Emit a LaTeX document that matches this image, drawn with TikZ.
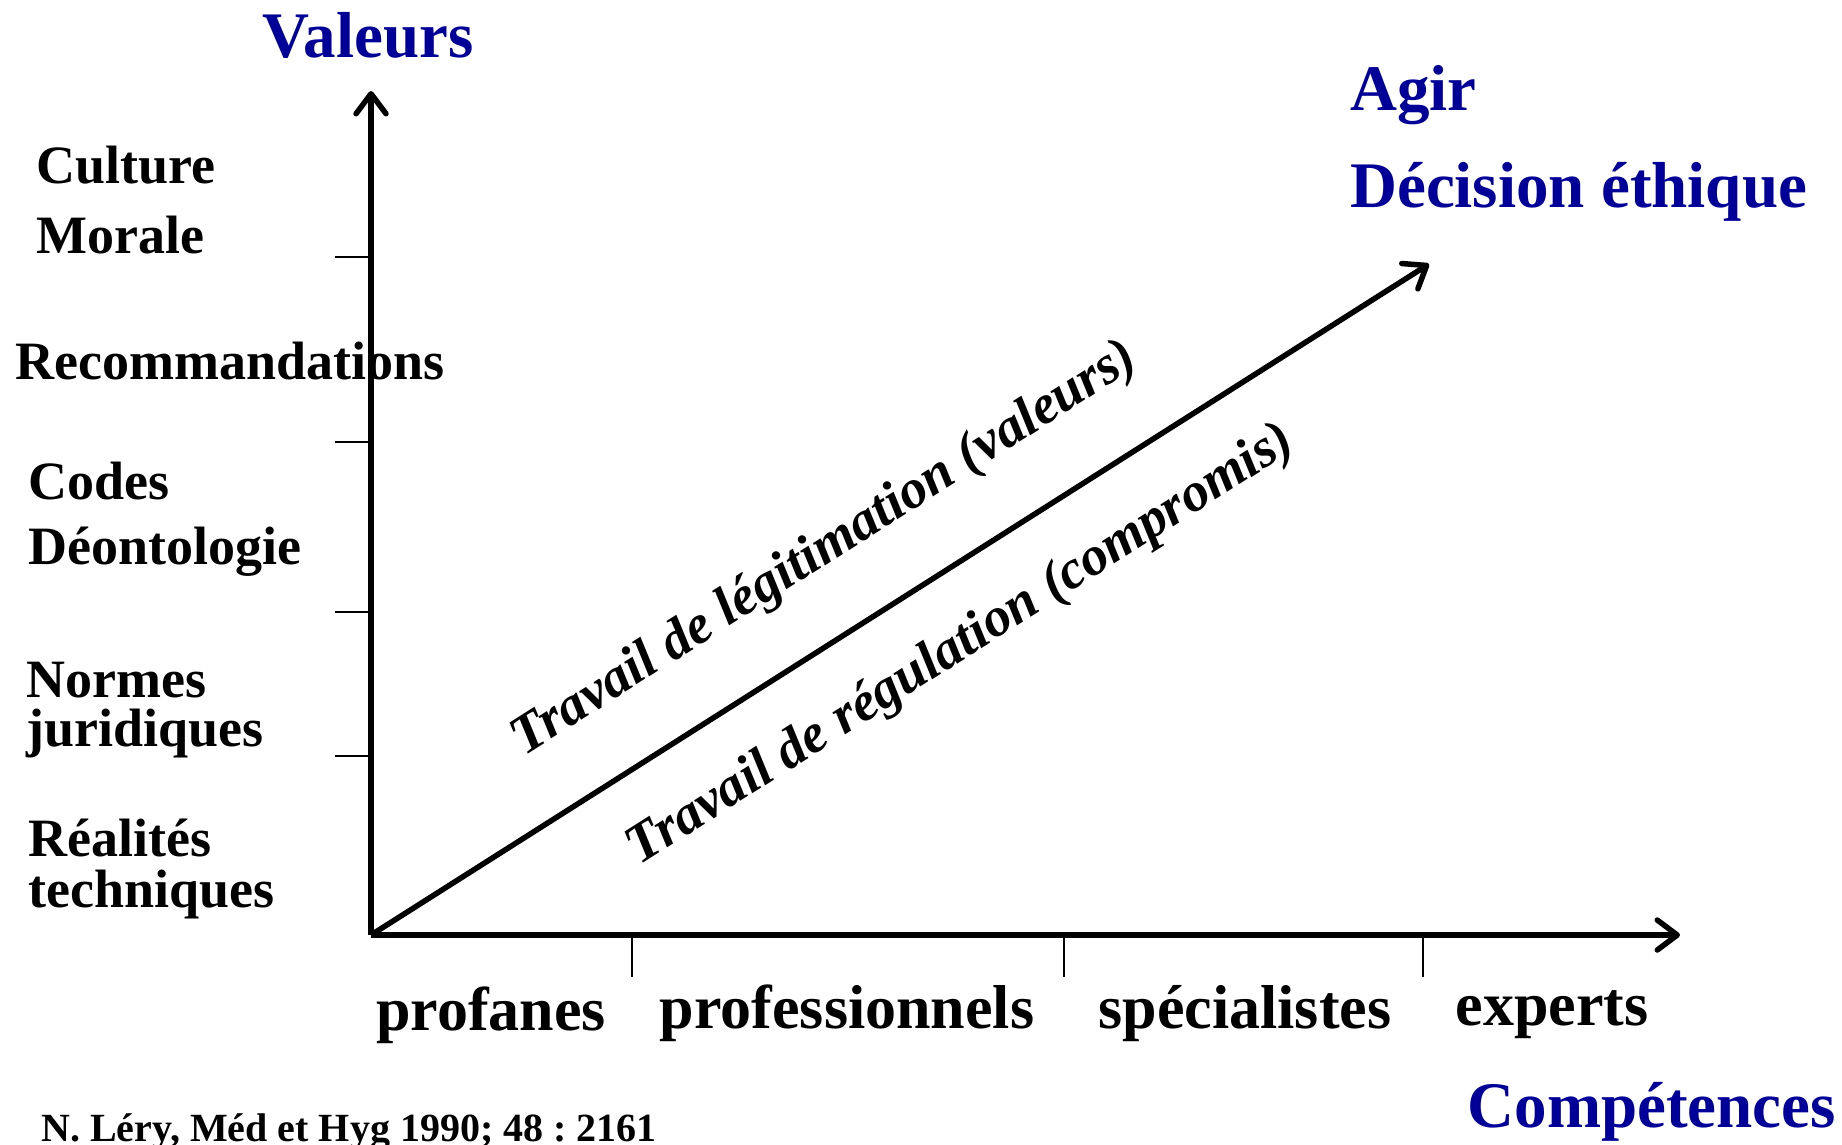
\documentclass[tikz,border=0pt]{standalone}
\usepackage{fontspec}
\setmainfont{Liberation Serif}
\usetikzlibrary{arrows.meta}
\definecolor{titleblue}{RGB}{0,0,153}
\frenchspacing
\begin{document}
\begin{tikzpicture}[x=1pt,y=-1pt,
  lbl/.style={font=\fontsize{54}{60}\selectfont\bfseries, inner sep=0pt, anchor=base west},
  bot/.style={font=\fontsize{62}{70}\selectfont\bfseries, inner sep=0pt, anchor=base},
  ttl/.style={font=\fontsize{65}{72}\selectfont\bfseries, text=titleblue, inner sep=0pt},
  diag/.style={font=\fontsize{55}{60}\selectfont\bfseries\itshape, inner sep=0pt, rotate=32.4},
  refstyle/.style={font=\fontsize{40}{44}\selectfont\bfseries, inner sep=0pt, anchor=base west},
  axisline/.style={line width=5.5pt, -{Straight Barb[length=20pt,width=30pt,round]}},
  tickline/.style={line width=2.2pt}]
\useasboundingbox (0,0) rectangle (1842,1144);
% coordinates
\coordinate (O) at (371,935);
\coordinate (Ytop) at (371,91);
\coordinate (Xend) at (1680,935);
\coordinate (Dend) at (1429,264);
\foreach \n/\y in {1/257,2/442,3/612,4/756}{
  \coordinate (yt\n) at (371,\y);
  \coordinate (yl\n) at (335,\y);
}
\foreach \n/\x in {1/632,2/1064,3/1423}{
  \coordinate (xt\n) at (\x,935);
  \coordinate (xb\n) at (\x,977);
}
% left labels
\node[lbl] (culture) at (36,183) {Culture};
\node[lbl] (morale) at (36,253) {Morale};
\node[lbl] (recom) at (15,379) {Recommandations};
\node[lbl] (codes) at (28,499) {Codes};
\node[lbl] (deonto) at (28,564) {Déontologie};
\node[lbl] (normes) at (26,697) {Normes};
\node[lbl] (jurid) at (26,746) {juridiques};
\node[lbl] (realites) at (28,856) {Réalités};
\node[lbl] (techn) at (28,907) {techniques};
% bottom labels
\node[bot] (profanes) at (491,1030) {profanes};
\node[bot] (profess) at (847,1028) {professionnels};
\node[bot] (special) at (1245,1028) {spécialistes};
\node[bot] (experts) at (1552,1025) {experts};
% titles
\node[ttl, anchor=base] (valeurs) at (368,57) {Valeurs};
\node[ttl, anchor=base west] (agir) at (1350,110) {Agir};
\node[ttl, anchor=base west] (decision) at (1350,207) {Décision éthique};
\node[ttl, anchor=base east] (compet) at (1836,1127) {Compétences};
% diagonal labels
\node[diag] (legit) at (825,550) {Travail de légitimation (valeurs)};
\node[diag] (regul) at (961,646) {Travail de régulation (compromis)};
% reference
\node[refstyle] (ref) at (41,1141) {N. Léry, Méd et Hyg 1990; 48 : 2161};
% axes
\draw[axisline] (O) -- (Ytop);
\draw[axisline] (O) -- (Xend);
\draw[axisline] (O) -- (Dend);
\foreach \n in {1,2,3,4}{\draw[tickline] (yl\n) -- (yt\n);}
\foreach \n in {1,2,3}{\draw[tickline] (xt\n) -- (xb\n);}
\end{tikzpicture}
\end{document}
